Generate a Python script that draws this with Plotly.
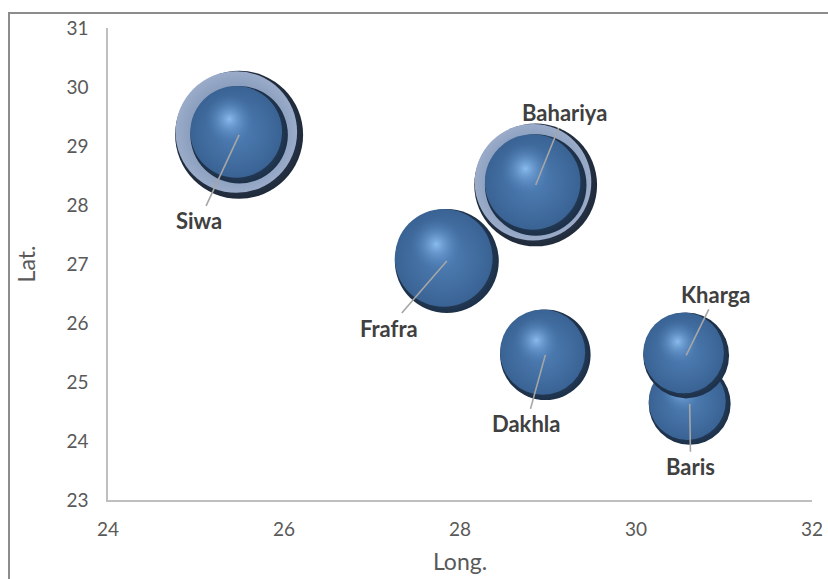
import math
import plotly.graph_objects as go

# ---- data ----
oases = ["Siwa", "Bahariya", "Frafra", "Dakhla", "Baris", "Kharga"]
longitude = [25.49, 28.86, 27.85, 28.97, 30.61, 30.57]
latitude = [29.19, 28.34, 27.05, 25.46, 24.63, 25.45]
bubble_size = [58, 63, 66, 50, 41, 45]
halo_size = [100, 92, None, None, None, None]
x_ticks = [24, 26, 28, 30, 32]
y_ticks = [23, 24, 25, 26, 27, 28, 29, 30, 31]

# ---- layout constants ----
W, H = 828, 579
ML, MR, MT, MB = 108, 16, 28, 79
PW, PH = W - ML - MR, H - MT - MB
XR, YR = [24, 32], [23, 31]
px_x = (XR[1] - XR[0]) / PW
px_y = (YR[1] - YR[0]) / PH
D_MAX = 128
vmax = max(v for v in halo_size + bubble_size if v is not None)


def diam(v):
    return D_MAX * math.sqrt(v / vmax)


FONT = "Lato, 'Open Sans', sans-serif"
fig = go.Figure()


def add_layer(x, y, d, edge, center, dx=0.0, dy=0.0):
    fig.add_trace(go.Scatter(
        x=[x + dx * px_x], y=[y + dy * px_y], mode="markers",
        marker=dict(size=d, sizemode="diameter", color=edge,
                    gradient=dict(type="radial", color=center),
                    line=dict(width=0)),
        hoverinfo="skip", showlegend=False))


# halos (second, larger series)
for x, y, h in zip(longitude, latitude, halo_size):
    if h is None:
        continue
    D = diam(h)
    add_layer(x, y, D, "#1f2a3a", "#56698a")
    add_layer(x, y, 0.95 * D, "#9aacca", "#5f7496", -0.022 * D, 0.022 * D)

# spheres
for x, y, s in zip(longitude, latitude, bubble_size):
    D = diam(s)
    add_layer(x, y, D, "#1d3048", "#3c6698")
    add_layer(x, y, 0.94 * D, "#3a6394", "#4f7fb6", -0.03 * D, 0.03 * D)
    add_layer(x, y, 0.5 * D, "rgba(79,127,182,0)", "rgba(145,195,245,0.9)",
              -0.1 * D, 0.16 * D)

# label offsets (pixels) for leader lines
label_offsets = {
    "Siwa": (-40, 86), "Bahariya": (29, -72), "Frafra": (-58, 67),
    "Dakhla": (-19, 69), "Kharga": (30, -61), "Baris": (1, 63),
}
for name, x, y in zip(oases, longitude, latitude):
    ax, ay = label_offsets[name]
    fig.add_annotation(
        x=x, y=y, text=f"<b>{name}</b>", showarrow=True, arrowhead=0,
        arrowwidth=1.6, arrowcolor="#a6a6a6", ax=ax, ay=ay, standoff=0,
        font=dict(family=FONT, size=22, color="#404040"))

# outer chart frame
fig.add_shape(type="rect", xref="paper", yref="paper",
              x0=(9 - ML) / PW, x1=(W + 30 - ML) / PW,
              y0=-(H + 30 - MT - PH) / PH, y1=(PH + MT - 13) / PH,
              line=dict(color="#8c8c8c", width=2), layer="below")

fig.update_layout(
    width=W, height=H,
    margin=dict(l=ML, r=MR, t=MT, b=MB, autoexpand=False),
    paper_bgcolor="white", plot_bgcolor="white",
    font=dict(family=FONT, color="#595959"),
    xaxis=dict(range=XR, tickvals=x_ticks, showgrid=False, zeroline=False,
               showline=True, linecolor="#bfbfbf", linewidth=1.5,
               ticks="", ticklabelstandoff=11, automargin=False,
               tickfont=dict(size=19, color="#595959"),
               title=dict(text="Long.", font=dict(size=23, color="#595959"),
                          standoff=15)),
    yaxis=dict(range=YR, tickvals=y_ticks, showgrid=False, zeroline=False,
               showline=True, linecolor="#bfbfbf", linewidth=1.5,
               ticks="", ticklabelstandoff=14, automargin=False,
               tickfont=dict(size=19, color="#595959"),
               title=dict(text="Lat.", font=dict(size=23, color="#595959"),
                          standoff=24)),
)

fig.write_html("out.html")
